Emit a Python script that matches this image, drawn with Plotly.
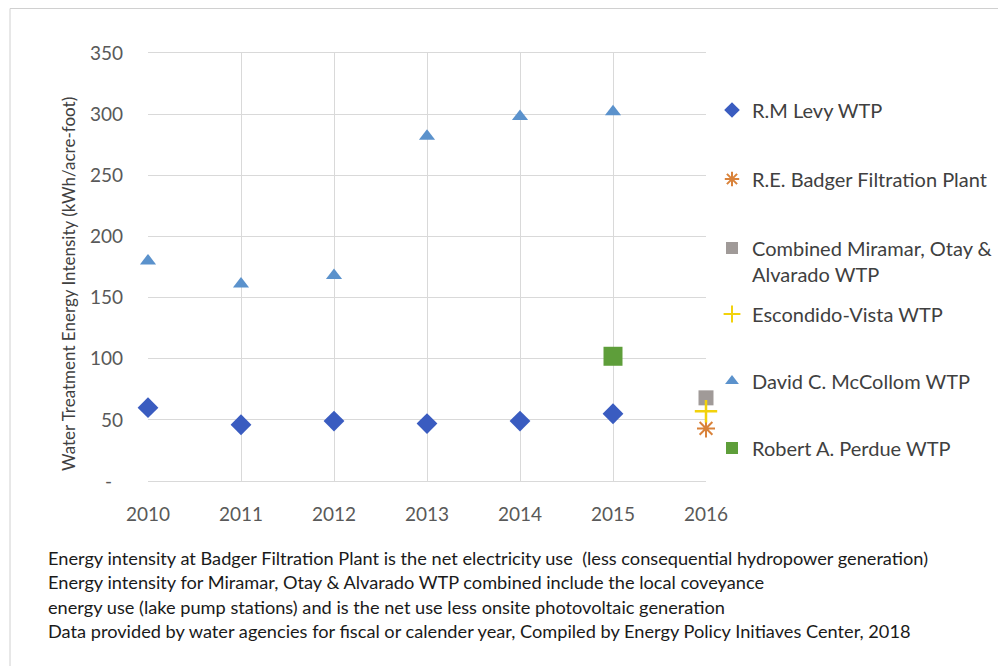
import plotly.graph_objects as go

years = [2010, 2011, 2012, 2013, 2014, 2015]
levy = [60, 46, 49, 47, 49, 55]
mccollom = [180, 161, 168, 282, 298, 302]
badger_year = [2016]
badger = [43]
miramar_year = [2016]
miramar = [68]
escondido_year = [2016]
escondido = [57]
perdue_year = [2015]
perdue = [102]

y_ticks = [0, 50, 100, 150, 200, 250, 300, 350]
y_ticktext = ["-\u2007", "50", "100", "150", "200", "250", "300", "350"]
x_ticks = [2010, 2011, 2012, 2013, 2014, 2015, 2016]

notes = [
    "Energy intensity at Badger Filtration Plant is the net electricity use  (less consequential hydropower generation)",
    "Energy intensity for Miramar, Otay & Alvarado WTP combined include the local coveyance",
    "energy use (lake pump stations) and is the net use less onsite photovoltaic generation",
    "Data provided by water agencies for fiscal or calender year, Compiled by Energy Policy Initiaves Center, 2018",
]

FONT = "Lato, 'Open Sans', sans-serif"
W, H = 998, 658
L, T, PW, PH = 140, 45, 558, 428
fig = go.Figure()

def add(name, x, y, symbol, color, size, group, legend, line=None):
    marker = dict(symbol=symbol, color=color, size=size)
    if line:
        marker["line"] = line
    fig.add_trace(go.Scatter(x=x, y=y, mode="markers", name=name, marker=marker,
                             legendgroup=group, legend=legend, cliponaxis=False))

add("R.M Levy WTP", years, levy, "diamond", "#3A5CC0", 16, "a", "legend")
add("R.E. Badger Filtration Plant", badger_year, badger, "asterisk-open", "#D9823A", 15, "b", "legend",
    line=dict(color="#D9823A", width=2))
add("Combined Miramar, Otay &<br>Alvarado WTP", miramar_year, miramar, "square", "#A09A98", 15, "c", "legend")
add("Escondido-Vista WTP", escondido_year, escondido, "cross-thin-open", "#F2D20C", 16, "d", "legend2",
    line=dict(color="#F2D20C", width=2.5))
add("David C. McCollom WTP", years, mccollom, "triangle-up", "#5B92CC", 14, "e", "legend2")
add("Robert A. Perdue WTP", perdue_year, perdue, "square", "#5E9E3A", 19, "f", "legend2")

for i, t in enumerate(notes):
    fig.add_annotation(text=t, xref="paper", yref="paper",
                       x=(38 - L) / PW, y=((T + PH) - (550 + 24.3 * i)) / PH,
                       xanchor="left", yanchor="middle", showarrow=False,
                       font=dict(family=FONT, size=18.2, color="#1a1a1a"))

# outer chart border
fig.add_shape(type="rect", xref="paper", yref="paper",
              x0=(2 - L) / PW, x1=(1040 - L) / PW,
              y0=((T + PH) - 700) / PH, y1=((T + PH) - 0.5) / PH,
              line=dict(color="#D0D0D0", width=1), fillcolor="rgba(0,0,0,0)", layer="below")

legend_common = dict(xanchor="left", yanchor="top", valign="top", xref="container", yref="container",
                     font=dict(family=FONT, size=20, color="#404040"),
                     itemsizing="constant", traceorder="grouped",
                     bgcolor="rgba(0,0,0,0)")

fig.update_layout(
    width=W, height=H,
    margin=dict(l=L, r=W - L - PW, t=T, b=H - T - PH, autoexpand=False),
    paper_bgcolor="white", plot_bgcolor="white",
    font=dict(family=FONT, size=16, color="#595959"),
    legend=dict(x=704 / W, y=1 - 82.5 / H, tracegroupgap=40, **legend_common),
    legend2=dict(x=704 / W, y=1 - 286.5 / H, tracegroupgap=38, **legend_common),
    xaxis=dict(range=[2010, 2016], tickvals=x_ticks, showgrid=True, gridcolor="#D9D9D9",
               showline=True, linecolor="#D9D9D9", mirror=True, zeroline=False,
               ticklabelstandoff=16, tickfont=dict(size=19, color="#595959")),
    yaxis=dict(range=[0, 350], tickvals=y_ticks, ticktext=y_ticktext, showgrid=True,
               gridcolor="#D9D9D9", showline=False, zeroline=False,
               ticklabelstandoff=24, tickfont=dict(size=19, color="#595959")),
)
fig.add_annotation(text="Water Treatment Energy Intensity (kWh/acre-foot)", xref="paper", yref="paper",
                   x=(60 - L) / PW, y=((T + PH) - 276) / PH, textangle=-90,
                   xanchor="center", yanchor="middle", showarrow=False,
                   font=dict(family=FONT, size=17, color="#404040"))

fig.write_html("out.html")
